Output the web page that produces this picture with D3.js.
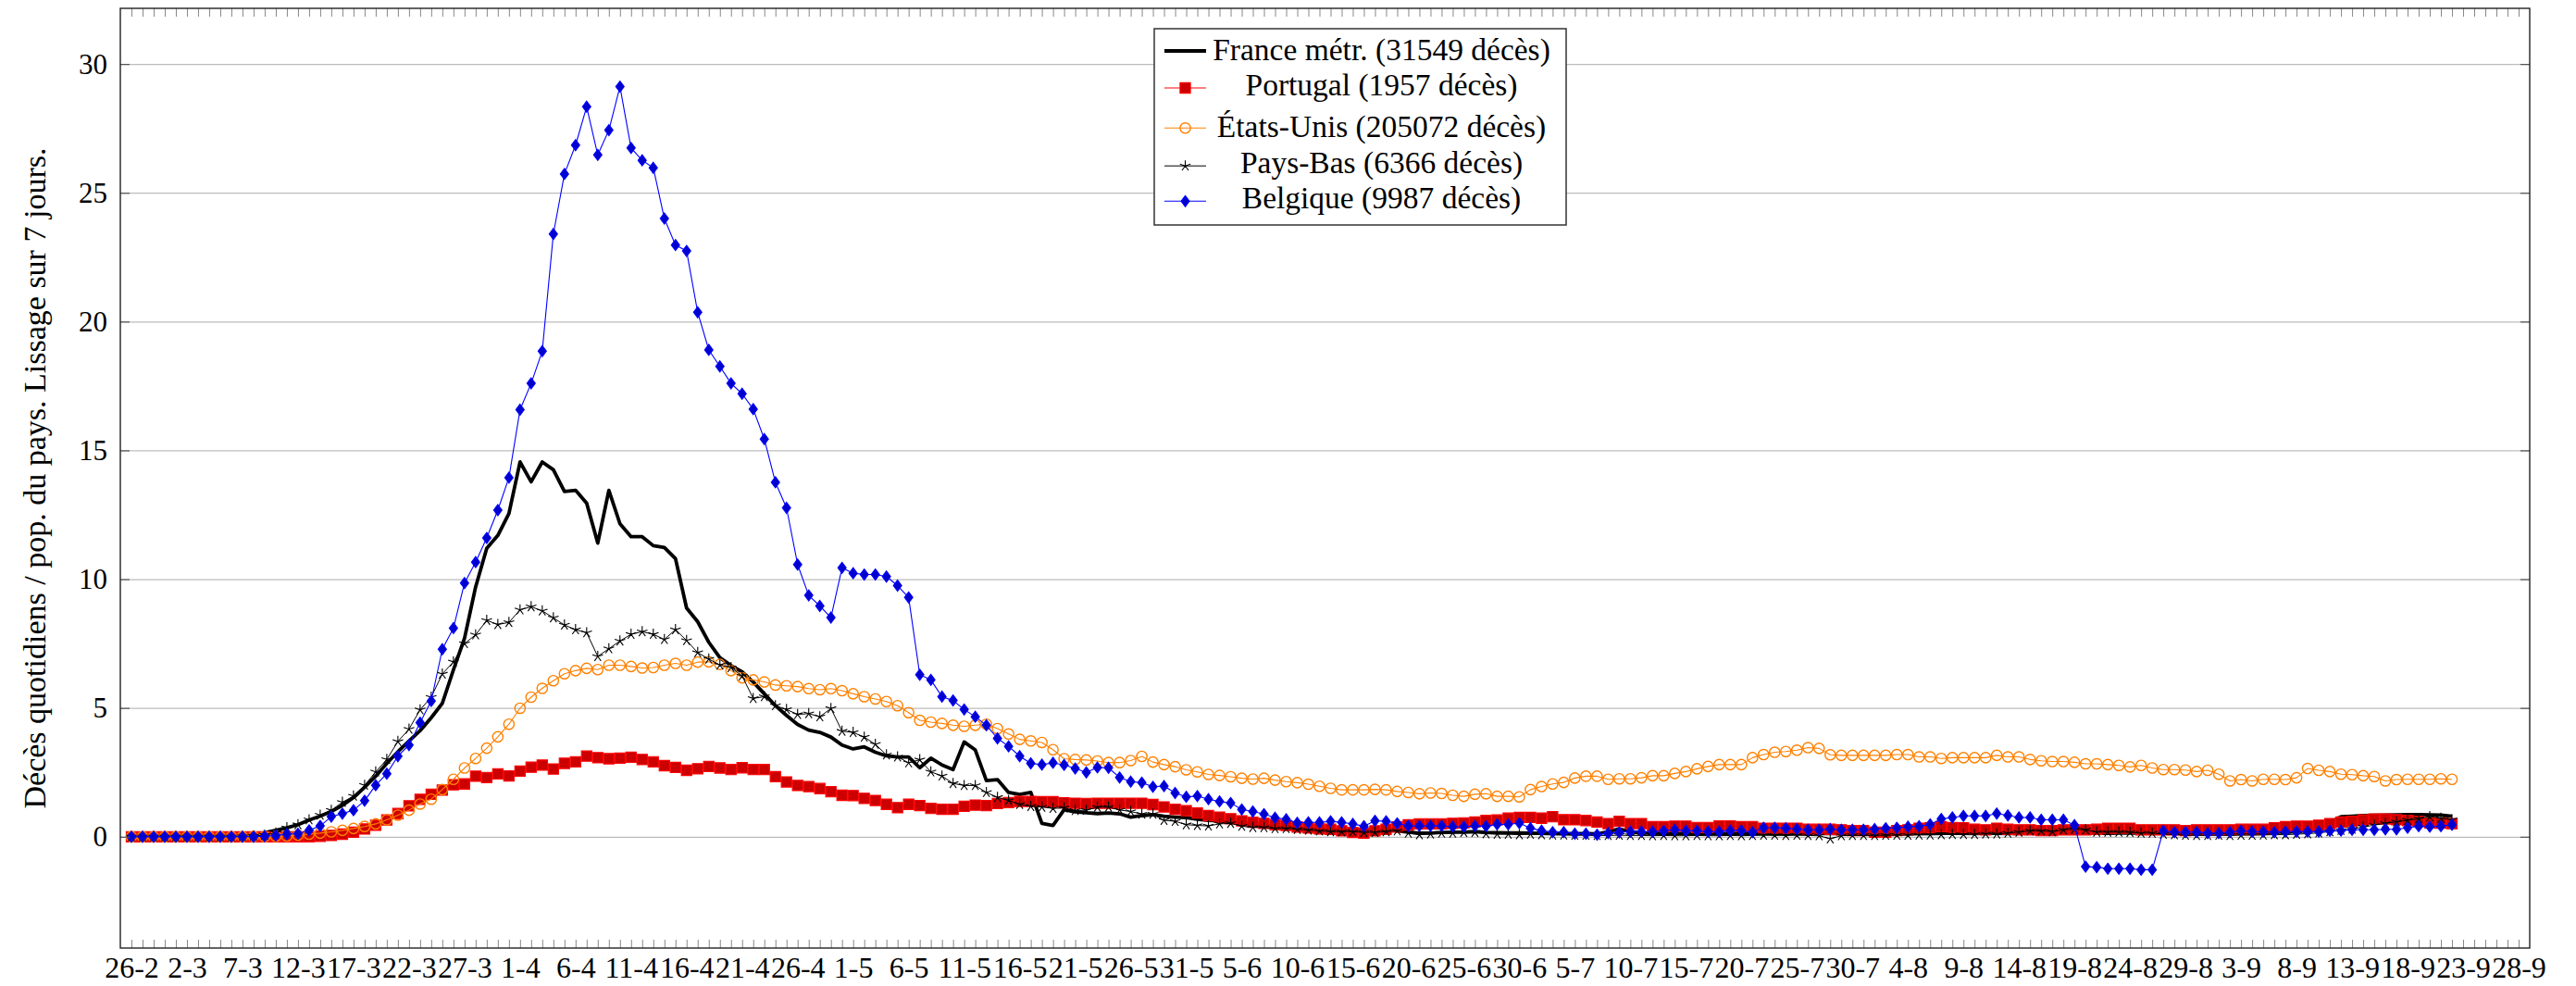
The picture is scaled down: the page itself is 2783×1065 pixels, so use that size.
<!DOCTYPE html>
<html>
<head>
<meta charset="utf-8">
<script src="https://cdn.jsdelivr.net/npm/d3@7"></script>
<style>
  body { margin: 0; background: #fff; }
  text { font-family: "Liberation Serif", "DejaVu Serif", serif; fill: #000; }
</style>
</head>
<body>
<svg id="chart" width="2783" height="1065"></svg>
<script>
// ---------------- DATA (one value per day, starting 26-2) ----------------
const xTickLabels = ["26-2","2-3","7-3","12-3","17-3","22-3","27-3","1-4","6-4","11-4","16-4","21-4","26-4","1-5","6-5","11-5","16-5","21-5","26-5","31-5","5-6","10-6","15-6","20-6","25-6","30-6","5-7","10-7","15-7","20-7","25-7","30-7","4-8","9-8","14-8","19-8","24-8","29-8","3-9","8-9","13-9","18-9","23-9","28-9"];
const yTickValues = [0, 5, 10, 15, 20, 25, 30];
const seriesLabels = ["France métr. (31549 décès)", "Portugal (1957 décès)", "États-Unis (205072 décès)", "Pays-Bas (6366 décès)", "Belgique (9987 décès)"];

const france = [
  0,0,0,0.01,0.01,0.01,0.02,0.02,0.03,0.04,
  0.06,0.1,0.16,0.25,0.35,0.47,0.65,0.8,0.98,1.22,
  1.52,1.92,2.35,2.85,3.3,3.72,4.12,4.62,5.18,6.48,
  7.71,9.7,11.2,11.7,12.55,14.55,13.78,14.55,14.25,13.4,
  13.45,12.95,11.4,13.45,12.15,11.65,11.65,11.3,11.23,10.8,
  8.88,8.35,7.55,6.95,6.65,6.4,6.01,5.55,5.09,4.71,
  4.36,4.14,4.05,3.87,3.56,3.41,3.49,3.28,3.14,3.1,
  3.1,2.68,3.05,2.79,2.61,3.68,3.37,2.18,2.22,1.72,
  1.64,1.72,0.52,0.44,1.05,0.97,0.93,0.9,0.92,0.89,
  0.76,0.82,0.86,0.8,0.76,0.74,0.68,0.64,0.62,0.56,
  0.52,0.47,0.42,0.38,0.36,0.32,0.3,0.29,0.26,0.26,
  0.26,0.29,0.3,0.26,0.23,0.18,0.14,0.14,0.17,0.18,
  0.18,0.2,0.17,0.16,0.15,0.15,0.14,0.13,0.13,0.12,
  0.12,0.12,0.11,0.2,0.3,0.2,0.15,0.14,0.13,0.13,
  0.12,0.12,0.13,0.12,0.12,0.13,0.12,0.12,0.11,0.12,
  0.12,0.13,0.12,0.12,0.13,0.12,0.12,0.13,0.13,0.14,
  0.14,0.13,0.14,0.14,0.13,0.13,0.12,0.13,0.13,0.12,
  0.13,0.13,0.14,0.13,0.13,0.13,0.14,0.14,0.13,0.14,
  0.14,0.14,0.13,0.14,0.14,0.15,0.15,0.15,0.14,0.15,
  0.16,0.16,0.17,0.18,0.19,0.2,0.25,0.35,0.55,0.78,
  0.8,0.82,0.83,0.84,0.85,0.86,0.86,0.85,0.84,0.8
];
const portugal = [
  0,0,0,0,0,0,0,0,0,0,
  0,0,0,0,0,0,0,0.02,0.05,0.1,
  0.18,0.3,0.45,0.65,0.9,1.2,1.45,1.65,1.81,2.02,
  2.05,2.35,2.3,2.44,2.36,2.55,2.7,2.78,2.63,2.85,
  2.91,3.13,3.07,3.03,3.05,3.09,3.0,2.91,2.76,2.69,
  2.58,2.64,2.73,2.67,2.61,2.68,2.61,2.61,2.33,2.13,
  1.99,1.95,1.87,1.75,1.61,1.6,1.49,1.41,1.26,1.13,
  1.26,1.21,1.1,1.07,1.07,1.18,1.23,1.21,1.29,1.33,
  1.37,1.37,1.36,1.36,1.32,1.3,1.29,1.3,1.3,1.3,
  1.3,1.3,1.25,1.16,1.07,1.01,0.92,0.82,0.76,0.7,
  0.62,0.56,0.52,0.47,0.44,0.38,0.34,0.3,0.29,0.23,
  0.17,0.14,0.23,0.29,0.38,0.46,0.5,0.5,0.5,0.52,
  0.54,0.57,0.63,0.65,0.72,0.75,0.75,0.72,0.78,0.66,
  0.66,0.63,0.57,0.51,0.6,0.51,0.51,0.39,0.39,0.41,
  0.41,0.36,0.36,0.42,0.42,0.39,0.39,0.33,0.33,0.33,
  0.33,0.29,0.29,0.29,0.27,0.24,0.24,0.18,0.18,0.24,
  0.27,0.33,0.35,0.39,0.36,0.35,0.29,0.27,0.33,0.29,
  0.27,0.27,0.24,0.24,0.27,0.27,0.27,0.29,0.33,0.33,
  0.33,0.27,0.27,0.27,0.27,0.24,0.27,0.27,0.27,0.27,
  0.29,0.29,0.29,0.35,0.39,0.41,0.41,0.45,0.51,0.57,
  0.6,0.65,0.69,0.69,0.66,0.63,0.6,0.54,0.53,0.51
];
const etatsUnis = [
  0,0,0,0,0,0,0,0,0,0,
  0,0.01,0.01,0.02,0.03,0.06,0.1,0.14,0.19,0.25,
  0.32,0.4,0.5,0.66,0.84,1.03,1.27,1.46,1.83,2.23,
  2.67,3.04,3.44,3.88,4.37,4.99,5.42,5.76,6.06,6.33,
  6.45,6.54,6.49,6.66,6.66,6.61,6.55,6.57,6.66,6.73,
  6.66,6.78,6.79,6.69,6.45,6.17,6.09,6.01,5.89,5.86,
  5.83,5.75,5.71,5.75,5.67,5.55,5.44,5.35,5.25,5.09,
  4.82,4.52,4.45,4.4,4.33,4.29,4.33,4.37,4.2,3.99,
  3.78,3.72,3.66,3.38,3.03,3.0,2.98,2.94,2.88,2.88,
  2.96,3.12,2.9,2.8,2.72,2.6,2.52,2.42,2.38,2.33,
  2.27,2.24,2.27,2.2,2.14,2.1,2.04,1.96,1.88,1.82,
  1.82,1.82,1.84,1.82,1.76,1.72,1.67,1.7,1.68,1.61,
  1.57,1.65,1.67,1.57,1.57,1.55,1.83,1.95,2.05,2.11,
  2.28,2.35,2.35,2.23,2.25,2.25,2.29,2.37,2.37,2.46,
  2.53,2.64,2.73,2.8,2.8,2.8,3.07,3.19,3.28,3.31,
  3.36,3.46,3.43,3.18,3.16,3.16,3.16,3.16,3.16,3.19,
  3.19,3.1,3.1,3.04,3.07,3.07,3.07,3.07,3.16,3.1,
  3.1,3.0,2.95,2.92,2.92,2.89,2.83,2.83,2.8,2.77,
  2.71,2.77,2.67,2.61,2.61,2.59,2.53,2.58,2.43,2.17,
  2.22,2.17,2.23,2.23,2.22,2.29,2.65,2.58,2.53,2.43,
  2.41,2.37,2.34,2.17,2.22,2.23,2.23,2.23,2.25,2.23
];
const paysBas = [
  0,0,0,0,0,0,0,0,0,0,
  0.01,0.03,0.06,0.15,0.35,0.47,0.66,0.84,1.03,1.34,
  1.58,2.0,2.52,3.0,3.7,4.18,4.93,5.42,6.32,6.79,
  7.5,7.84,8.4,8.24,8.32,8.81,8.93,8.77,8.5,8.22,
  8.04,7.92,7.0,7.3,7.6,7.86,7.96,7.86,7.66,8.04,
  7.62,7.15,6.9,6.67,6.57,6.24,5.37,5.44,5.09,4.94,
  4.75,4.78,4.66,4.98,4.1,4.05,3.87,3.59,3.18,3.1,
  2.87,2.99,2.52,2.36,2.07,1.99,1.99,1.72,1.53,1.41,
  1.26,1.18,1.15,1.1,1.12,1.02,1.03,1.15,1.15,1.04,
  0.98,0.88,0.88,0.64,0.6,0.47,0.44,0.42,0.5,0.52,
  0.41,0.36,0.36,0.32,0.32,0.29,0.26,0.23,0.2,0.2,
  0.2,0.17,0.17,0.2,0.23,0.14,0.08,0.11,0.14,0.14,
  0.17,0.17,0.12,0.1,0.1,0.08,0.1,0.08,0.07,0.07,
  0.06,0.06,0.05,0.05,0.06,0.05,0.05,0.04,0.05,0.04,
  0.04,0.05,0.04,0.04,0.05,0.04,0.05,0.06,0.06,0.05,
  0.06,0.05,0.04,-0.08,0.04,0.05,0.05,0.05,0.06,0.06,
  0.06,0.07,0.07,0.08,0.09,0.09,0.09,0.11,0.11,0.14,
  0.18,0.23,0.23,0.2,0.27,0.29,0.27,0.18,0.18,0.18,
  0.17,0.14,0.14,0.1,0.08,0.06,0.05,0.05,0.06,0.05,
  0.06,0.06,0.07,0.08,0.08,0.1,0.12,0.15,0.2,0.25,
  0.3,0.38,0.45,0.52,0.58,0.64,0.7,0.78,0.72,0.66
];
const belgique = [
  0,0,0,0,0,0,0,0,0,0,
  0,0,0.02,0.05,0.1,0.12,0.25,0.42,0.78,0.9,
  1.03,1.4,2.0,2.45,3.13,3.56,4.43,5.27,7.28,8.1,
  9.85,10.66,11.6,12.68,13.94,16.58,17.6,18.85,23.4,25.73,
  26.85,28.34,26.47,27.43,29.12,26.74,26.26,25.97,24.0,22.97,
  22.74,20.36,18.9,18.26,17.6,17.2,16.6,15.44,13.76,12.77,
  10.57,9.37,8.96,8.51,10.44,10.23,10.18,10.18,10.1,9.75,
  9.29,6.29,6.09,5.44,5.29,4.94,4.66,4.33,3.82,3.51,
  3.13,2.85,2.8,2.87,2.79,2.65,2.5,2.69,2.68,2.3,
  2.14,2.1,1.94,1.97,1.7,1.55,1.58,1.46,1.37,1.31,
  1.06,0.98,0.88,0.74,0.68,0.54,0.56,0.56,0.6,0.56,
  0.5,0.41,0.62,0.6,0.52,0.42,0.42,0.42,0.42,0.39,
  0.39,0.42,0.41,0.48,0.48,0.53,0.33,0.24,0.18,0.18,
  0.12,0.12,0.08,0.14,0.17,0.2,0.2,0.2,0.23,0.27,
  0.23,0.23,0.2,0.2,0.24,0.24,0.18,0.35,0.35,0.33,
  0.3,0.27,0.27,0.3,0.27,0.27,0.27,0.3,0.33,0.35,
  0.39,0.41,0.48,0.69,0.75,0.81,0.81,0.81,0.9,0.83,
  0.75,0.75,0.66,0.66,0.66,0.45,-1.16,-1.18,-1.24,-1.24,
  -1.24,-1.28,-1.28,0.23,0.18,0.18,0.18,0.14,0.14,0.18,
  0.23,0.2,0.2,0.18,0.2,0.2,0.2,0.2,0.23,0.24,
  0.27,0.27,0.27,0.29,0.29,0.35,0.41,0.39,0.41,0.47
];
const seriesValues = [france, portugal, etatsUnis, paysBas, belgique];

// ---------------- STYLES / LAYOUT ----------------
const styles = [
  { line: "#000000", width: 3.8, mark: null },
  { line: "#ff0000", width: 1.1, mark: "square",  fill: "#cc0000", stroke: "#ff0000" },
  { line: "#ff8000", width: 1.1, mark: "circle",  fill: "none",    stroke: "#ff8000" },
  { line: "#000000", width: 1.0, mark: "star",    fill: "none",    stroke: "#000000" },
  { line: "#0000ff", width: 1.1, mark: "diamond", fill: "#0000cc", stroke: "#0000ff" }
];
const plot = { left: 130, right: 2733, top: 9, bottom: 1024 };

const svg = d3.select("#chart");
const x = d3.scaleLinear().domain([-1, 216]).range([plot.left, plot.right]);
const y = d3.scaleLinear().domain([-4.32, 32.16]).range([plot.bottom, plot.top]);

// grid
svg.append("g")
  .attr("transform", `translate(${plot.left},0)`)
  .call(d3.axisLeft(y).tickValues(yTickValues).tickSize(-(plot.right - plot.left)).tickFormat(""))
  .call(g => g.select(".domain").remove())
  .call(g => g.selectAll("line").attr("stroke", "#bdbdbd").attr("stroke-width", 1.2));

// marker shapes
function markPath(type) {
  if (type === "square") return "M-5.6,-5.6H5.6V5.6H-5.6Z";
  if (type === "circle") return d3.symbol(d3.symbolCircle, Math.PI * 5.6 * 5.6)();
  if (type === "diamond") return "M0,-6L4.5,0L0,6L-4.5,0Z";
  if (type === "star") {
    let p = "";
    for (let k = 0; k < 5; k++) {
      const a = -Math.PI / 2 + k * 2 * Math.PI / 5;
      p += `M0,0L${(6 * Math.cos(a)).toFixed(2)},${(6 * Math.sin(a)).toFixed(2)}`;
    }
    return p;
  }
  return "";
}

const lineGen = d3.line().x((d, i) => x(i)).y(d => y(d));
const plotG = svg.append("g");
seriesValues.forEach((vals, si) => {
  const st = styles[si];
  const g = plotG.append("g");
  g.append("path").datum(vals)
    .attr("d", lineGen)
    .attr("fill", "none")
    .attr("stroke", st.line)
    .attr("stroke-width", st.width)
    .attr("stroke-linejoin", "round");
  if (st.mark) {
    g.selectAll("path.m").data(vals).join("path")
      .attr("class", "m")
      .attr("d", markPath(st.mark))
      .attr("transform", (d, i) => `translate(${x(i)},${y(d)})`)
      .attr("fill", st.fill)
      .attr("stroke", st.stroke)
      .attr("stroke-width", st.mark === "circle" ? 1.4 : 1.1);
  }
});

// axes
const dayTicks = d3.range(0, 216);
const tickFmt = d => (d % 5 === 0 ? xTickLabels[d / 5] : "");
svg.append("g")
  .attr("transform", `translate(0,${plot.bottom})`)
  .call(d3.axisBottom(x).tickValues(dayTicks).tickSizeInner(-9).tickSizeOuter(0).tickPadding(9).tickFormat(tickFmt))
  .call(g => g.select(".domain").remove())
  .call(g => g.selectAll("line").attr("stroke", "#888").attr("stroke-width", 1))
  .call(g => g.selectAll("text").attr("font-size", 32).attr("font-family", "Liberation Serif").attr("fill", "#000"));
svg.append("g")
  .attr("transform", `translate(0,${plot.top})`)
  .call(d3.axisTop(x).tickValues(dayTicks).tickSizeInner(-9).tickSizeOuter(0).tickFormat(""))
  .call(g => g.select(".domain").remove())
  .call(g => g.selectAll("line").attr("stroke", "#888").attr("stroke-width", 1));
svg.append("g")
  .attr("transform", `translate(${plot.left},0)`)
  .call(d3.axisLeft(y).tickValues(yTickValues).tickSizeInner(-10).tickSizeOuter(0).tickPadding(14).tickFormat(d3.format("d")))
  .call(g => g.select(".domain").remove())
  .call(g => g.selectAll("line").attr("stroke", "#555").attr("stroke-width", 1.2))
  .call(g => g.selectAll("text").attr("font-size", 31).attr("font-family", "Liberation Serif").attr("fill", "#000"));
svg.append("g")
  .attr("transform", `translate(${plot.right},0)`)
  .call(d3.axisRight(y).tickValues(yTickValues).tickSizeInner(-10).tickSizeOuter(0).tickFormat(""))
  .call(g => g.select(".domain").remove())
  .call(g => g.selectAll("line").attr("stroke", "#555").attr("stroke-width", 1.2));

// frame
svg.append("rect")
  .attr("x", plot.left).attr("y", plot.top)
  .attr("width", plot.right - plot.left).attr("height", plot.bottom - plot.top)
  .attr("fill", "none").attr("stroke", "#222").attr("stroke-width", 1.4);

// y label
svg.append("text")
  .attr("transform", `translate(49,${(plot.top + plot.bottom) / 2}) rotate(-90)`)
  .attr("text-anchor", "middle")
  .attr("font-size", 34)
  .text("Décès quotidiens / pop. du pays. Lissage sur 7 jours.");

// legend
const legend = { x: 1247, y: 31, w: 445, h: 212, textX: 1492.5, symX1: 1258, symX2: 1303 };
const legendBaselines = [65, 103.3, 148.3, 186.7, 225];
const legendSymbolOffset = [10, 8.3, 10, 7.5, 7.7];
const lg = svg.append("g");
lg.append("rect")
  .attr("x", legend.x).attr("y", legend.y).attr("width", legend.w).attr("height", legend.h)
  .attr("fill", "#fff").attr("stroke", "#333").attr("stroke-width", 1.5);
seriesLabels.forEach((lab, si) => {
  const st = styles[si];
  const by = legendBaselines[si];
  const sy = by - legendSymbolOffset[si];
  lg.append("line")
    .attr("x1", legend.symX1).attr("x2", legend.symX2).attr("y1", sy).attr("y2", sy)
    .attr("stroke", st.line).attr("stroke-width", st.width);
  if (st.mark) {
    lg.append("path")
      .attr("d", markPath(st.mark))
      .attr("transform", `translate(${(legend.symX1 + legend.symX2) / 2},${sy})`)
      .attr("fill", st.fill).attr("stroke", st.stroke)
      .attr("stroke-width", st.mark === "circle" ? 1.4 : 1.1);
  }
  lg.append("text")
    .attr("x", legend.textX).attr("y", by)
    .attr("text-anchor", "middle")
    .attr("font-size", 33.5)
    .text(lab);
});
</script>
</body>
</html>
